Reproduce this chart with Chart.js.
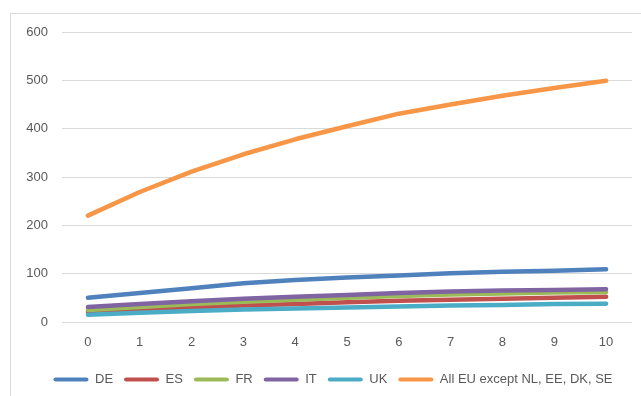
<!DOCTYPE html>
<html>
<head>
<meta charset="utf-8">
<script src="https://cdn.jsdelivr.net/npm/chart.js@4"></script>
<style>
  html, body { margin: 0; padding: 0; background: #fff; overflow: hidden; }
  #frame { position: absolute; left: 10px; top: 13px; width: 700px; height: 500px; border: 1px solid #d9d9d9; }
  #wrap { position: absolute; left: 0; top: 0; width: 641px; height: 396px; }
</style>
</head>
<body>
<div id="frame"></div>
<div id="wrap"><canvas id="c" width="641" height="396"></canvas></div>
<script>
// Years on the horizontal axis
const categories = ['0', '1', '2', '3', '4', '5', '6', '7', '8', '9', '10'];

// Series values
const DE = [50, 60, 70, 80, 87, 92, 96, 101, 104, 106, 109];
const ES = [21, 26, 30, 34, 37, 41, 44, 46, 48, 50, 52];
const FR = [25, 31, 37, 42, 46, 50, 54, 57, 59, 61, 62];
const IT = [31, 37, 43, 48, 52, 56, 60, 63, 65, 66, 68];
const UK = [15, 19, 23, 26, 28, 30, 32, 34, 35, 37, 38];
const ALL_EU = [220, 269, 311, 347, 378, 405, 431, 450, 468, 484, 499];

// Value axis ticks
const yTicks = [0, 100, 200, 300, 400, 500, 600];

const FONT = "'Liberation Sans', Arial, sans-serif";
const TEXT = '#595959';
const GRID = '#d9d9d9';

function series(label, data, color, order) {
  return {
    label, data, order,
    borderColor: color,
    backgroundColor: color,
    borderWidth: 4.5,
    borderCapStyle: 'round',
    borderJoinStyle: 'round',
    pointRadius: 0,
    pointHoverRadius: 0,
    tension: 0,
    fill: false
  };
}

// Centre the legend row under the frame rather than the whole canvas
const legendShift = {
  id: 'legendShift',
  afterLayout(chart) {
    const lg = chart.legend;
    if (lg) { lg.left += 17; lg.right += 17; }
  }
};

new Chart(document.getElementById('c'), {
  type: 'line',
  plugins: [legendShift],
  data: {
    labels: categories,
    datasets: [
      series('DE', DE, '#4f81bd', 6),
      series('ES', ES, '#c0504d', 5),
      series('FR', FR, '#9bbb59', 4),
      series('IT', IT, '#8064a2', 3),
      series('UK', UK, '#4bacc6', 2),
      series('All EU except NL, EE, DK, SE', ALL_EU, '#f79646', 1)
    ]
  },
  options: {
    responsive: false,
    animation: false,
    devicePixelRatio: 1,
    layout: { padding: { left: 0, right: 9, top: 32, bottom: 0 } },
    plugins: {
      tooltip: { enabled: false },
      legend: {
        position: 'bottom',
        labels: {
          sort: (a, b) => a.datasetIndex - b.datasetIndex,
          boxWidth: 35,
          boxHeight: 4,
          padding: 11,
          color: TEXT,
          font: { family: FONT, size: 13 },
          generateLabels(chart) {
            return chart.data.datasets.map((ds, i) => ({
              text: ds.label,
              fillStyle: ds.borderColor,
              strokeStyle: ds.borderColor,
              lineWidth: 0,
              borderRadius: 2,
              fontColor: TEXT,
              hidden: false,
              datasetIndex: i
            }));
          }
        }
      }
    },
    scales: {
      x: {
        offset: true,
        grid: { display: false, drawTicks: false },
        border: { display: false },
        ticks: { color: TEXT, font: { family: FONT, size: 13 }, padding: 13 },
        afterFit(scale) { scale.height = 40; }
      },
      y: {
        min: 0,
        max: 600,
        afterBuildTicks(scale) { scale.ticks = yTicks.map(v => ({ value: v })); },
        grid: { color: GRID, lineWidth: 1, drawTicks: false },
        border: { display: false },
        ticks: { color: TEXT, font: { family: FONT, size: 13 }, padding: 14 },
        afterFit(scale) { scale.width = 62; }
      }
    }
  }
});
</script>
</body>
</html>
